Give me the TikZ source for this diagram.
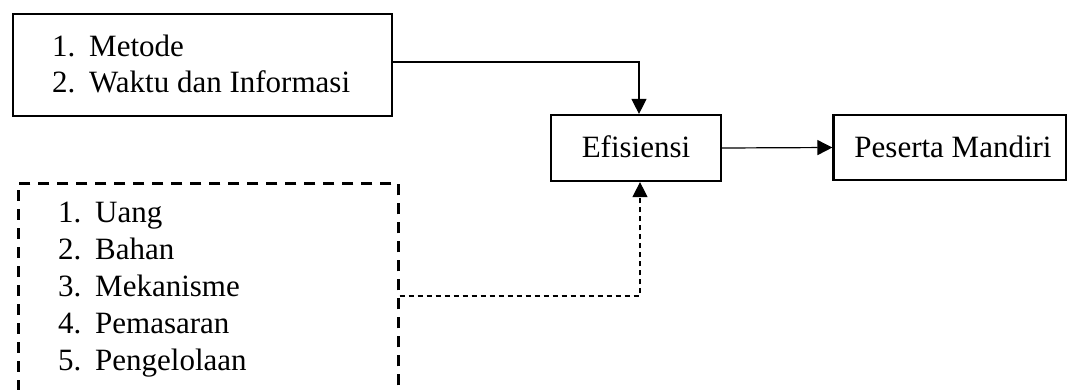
\documentclass[tikz,border=0pt]{standalone}
\usepackage{fontspec}
\setmainfont{Liberation Serif}
\usetikzlibrary{arrows.meta}
\tikzset{
  solidbox/.style={draw, line width=2.2pt, inner sep=0pt, rectangle},
  dashbox/.style={draw, line width=2.6pt, dash pattern=on 11pt off 8pt, inner sep=0pt, rectangle},
  txt/.style={anchor=base west, inner sep=0pt, font=\fontsize{31}{37}\selectfont},
  ctxt/.style={inner sep=0pt, font=\fontsize{31}{37}\selectfont},
  conn/.style={line width=1.2pt, -{Triangle[length=15pt, width=15pt]}},
  dconn/.style={conn, dash pattern=on 5pt off 4pt},
}
\begin{document}
\begin{tikzpicture}[x=1pt, y=-1pt]
\useasboundingbox (0,0) rectangle (1067,389);
\clip (0,0) rectangle (1067,389);
% boxes
\node[solidbox, anchor=north west, minimum width=379pt, minimum height=102pt] (box1) at (12,13) {};
\node[dashbox, anchor=north west, minimum width=380pt, minimum height=240pt] (box2) at (17,182) {};
\node[solidbox, minimum width=170pt, minimum height=66pt] (efi) at (636,148) {};
\node[ctxt, anchor=base] (efit) at (636,157) {Efisiensi};
\node[solidbox, minimum width=233pt, minimum height=65pt] (pes) at (950,147.5) {};
\node[ctxt, anchor=base] (pest) at (953,157) {Peserta Mandiri};
% list 1
\node[txt] (n1) at (52,56) {1.};
\node[txt] (t1) at (89,56) {Metode};
\node[txt] (n2) at (52,92) {2.};
\node[txt] (t2) at (89,92) {Waktu dan Informasi};
% list 2
\node[txt] (m1) at (58,222) {1.};
\node[txt] (u1) at (95,222) {Uang};
\node[txt] (m2) at (58,259) {2.};
\node[txt] (u2) at (95,259) {Bahan};
\node[txt] (m3) at (58,296) {3.};
\node[txt] (u3) at (95,296) {Mekanisme};
\node[txt] (m4) at (58,333) {4.};
\node[txt] (u4) at (95,333) {Pemasaran};
\node[txt] (m5) at (58,370) {5.};
\node[txt] (u5) at (95,370) {Pengelolaan};
% connectors
\coordinate (c1) at (box1.east |- 0,62);
\draw[conn] (c1) -| ([xshift=3pt]efi.north);
\coordinate (c2) at (box2.east |- 0,296);
\draw[dconn] (c2) -| ([xshift=4pt]efi.south);
\draw[conn] (efi.east) -- (pes.west);
\end{tikzpicture}
\end{document}
